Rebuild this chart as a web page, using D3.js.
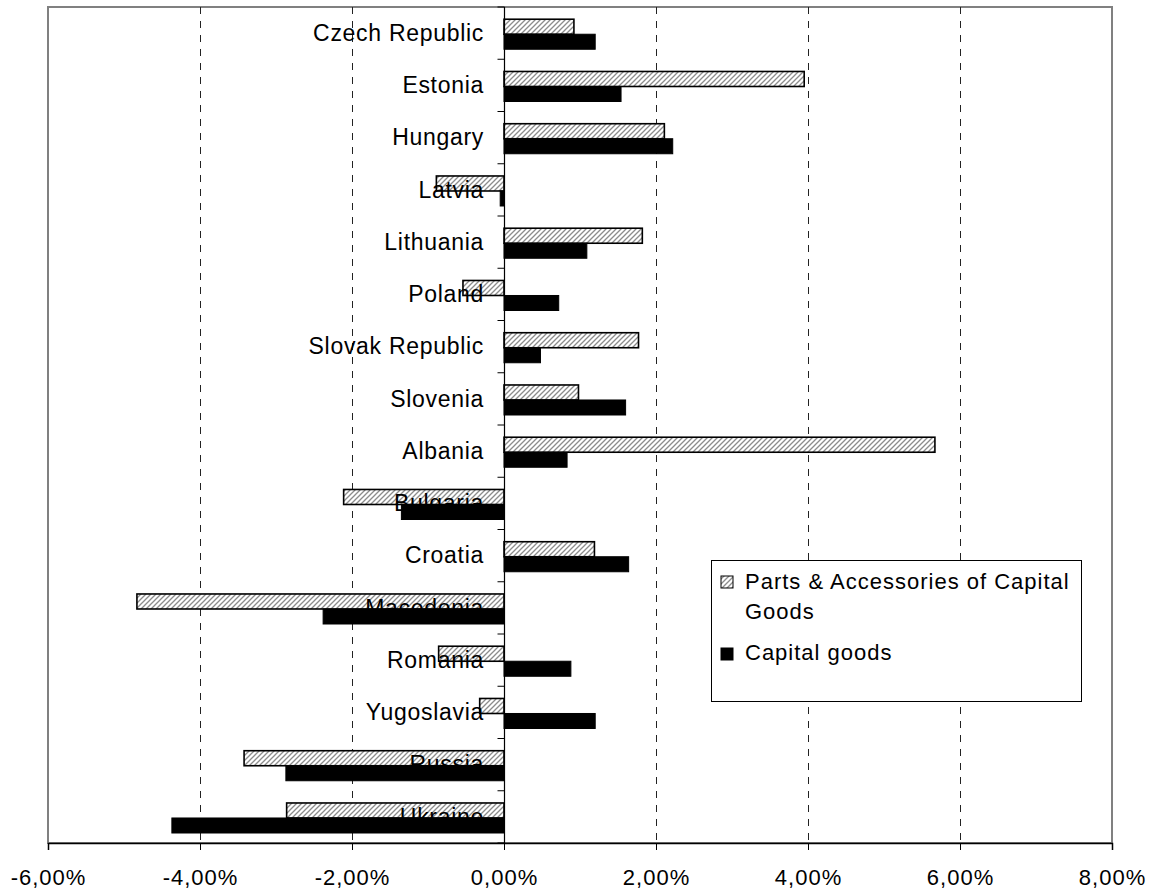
<!DOCTYPE html>
<html>
<head>
<meta charset="utf-8">
<script src="https://cdn.jsdelivr.net/npm/d3@7"></script>
<style>
  html, body { margin: 0; padding: 0; background: #fff; }
  svg { display: block; font-family: "Liberation Sans", Arial, sans-serif; }
</style>
</head>
<body>
<svg id="chart" width="1156" height="893"></svg>
<script>
// Countries, top to bottom
const countries = ["Czech Republic", "Estonia", "Hungary", "Latvia", "Lithuania", "Poland",
  "Slovak Republic", "Slovenia", "Albania", "Bulgaria", "Croatia", "Macedonia",
  "Romania", "Yugoslavia", "Russia", "Ukraine"];

// Series values, in percent
const partsValues = [0.92, 3.95, 2.11, -0.89, 1.82, -0.54, 1.77, 0.98, 5.67, -2.11,
  1.19, -4.83, -0.86, -0.32, -3.42, -2.86];
const capitalValues = [1.20, 1.54, 2.22, -0.05, 1.09, 0.72, 0.48, 1.60, 0.83, -1.35,
  1.64, -2.38, 0.88, 1.20, -2.87, -4.37];

const seriesNames = ["Parts & Accessories of Capital Goods", "Capital goods"];

// Axis ticks
const tickValues = [-6, -4, -2, 0, 2, 4, 6, 8];
const tickLabels = ["-6,00%", "-4,00%", "-2,00%", "0,00%", "2,00%", "4,00%", "6,00%", "8,00%"];
const gridValues = [-4, -2, 2, 4, 6];

const svg = d3.select("#chart");
const plot = { left: 48, right: 1112, top: 7, bottom: 843 };

const x = d3.scaleLinear().domain([-6, 8]).range([plot.left, plot.right]);
const y = d3.scaleBand().domain(countries).range([plot.top, plot.bottom]).padding(0);
const sub = d3.scaleBand().domain(["parts", "capital"]).range([0, y.bandwidth()])
  .paddingInner(0).paddingOuter(0.74).align(0.55);

// Hatch pattern for the parts series
const defs = svg.append("defs");
const pat = defs.append("pattern")
  .attr("id", "hatch")
  .attr("patternUnits", "userSpaceOnUse")
  .attr("width", 5).attr("height", 5);
pat.append("rect").attr("width", 5).attr("height", 5).attr("fill", "#fff");
pat.append("path")
  .attr("d", "M-1,1 l2,-2 M0,5 l5,-5 M4,6 l2,-2")
  .attr("stroke", "#8c8c8c")
  .attr("stroke-width", 1.3);

// Plot area border
svg.append("rect")
  .attr("x", plot.left).attr("y", plot.top)
  .attr("width", plot.right - plot.left).attr("height", plot.bottom - plot.top)
  .attr("fill", "#fff").attr("stroke", "#808080").attr("stroke-width", 2);

// Dashed vertical gridlines
svg.append("g").selectAll("line").data(gridValues).join("line")
  .attr("x1", d => Math.round(x(d)) + 0.5).attr("x2", d => Math.round(x(d)) + 0.5)
  .attr("y1", plot.top).attr("y2", plot.bottom)
  .attr("stroke", "#222").attr("stroke-width", 1)
  .attr("stroke-dasharray", "7,7");

const rows = countries.map((c, i) => ({ c, parts: partsValues[i], capital: capitalValues[i] }));

// Hatched bars (parts series)
svg.append("g").selectAll("rect").data(rows).join("rect")
  .attr("x", d => x(Math.min(0, d.parts)))
  .attr("y", d => y(d.c) + sub("parts"))
  .attr("width", d => Math.abs(x(d.parts) - x(0)))
  .attr("height", sub.bandwidth())
  .attr("fill", "url(#hatch)")
  .attr("stroke", "#000").attr("stroke-width", 1.6);

// Category labels, placed left of the zero line
svg.append("g").selectAll("text").data(countries).join("text")
  .attr("x", x(0) - 20)
  .attr("y", d => y(d) + y.bandwidth() / 2)
  .attr("dy", "0.34em")
  .attr("text-anchor", "end")
  .attr("font-size", 23)
  .attr("letter-spacing", "0.7px")
  .attr("fill", "#000")
  .text(d => d);

// Solid bars (capital goods series)
svg.append("g").selectAll("rect").data(rows).join("rect")
  .attr("x", d => x(Math.min(0, d.capital)))
  .attr("y", d => y(d.c) + sub("capital"))
  .attr("width", d => Math.abs(x(d.capital) - x(0)))
  .attr("height", sub.bandwidth())
  .attr("fill", "#000")
  .attr("stroke", "#000").attr("stroke-width", 1);

// Category axis on the zero line with ticks at band boundaries
const boundaries = countries.map(c => y(c)).concat([plot.bottom]);
const zeroX = Math.round(x(0)) + 0.5;
svg.append("line")
  .attr("x1", zeroX).attr("x2", zeroX)
  .attr("y1", plot.top).attr("y2", plot.bottom)
  .attr("stroke", "#000").attr("stroke-width", 1.2);
svg.append("g").selectAll("line").data(boundaries).join("line")
  .attr("x1", zeroX - 7).attr("x2", zeroX)
  .attr("y1", d => d).attr("y2", d => d)
  .attr("stroke", "#000").attr("stroke-width", 1);

// Value axis along the bottom
const xAxis = d3.axisBottom(x)
  .tickValues(tickValues)
  .tickFormat((d, i) => tickLabels[i])
  .tickSize(7).tickPadding(19);
const gx = svg.append("g")
  .attr("transform", `translate(0,${plot.bottom})`)
  .call(xAxis);
gx.select(".domain").attr("stroke", "#000").attr("stroke-width", 1.5);
gx.selectAll(".tick line").attr("stroke", "#000").attr("stroke-width", 1);
gx.selectAll(".tick text")
  .attr("font-size", 22)
  .attr("letter-spacing", "1px")
  .attr("font-family", "Liberation Sans, Arial, sans-serif")
  .attr("fill", "#000");

// Legend
const lg = svg.append("g");
lg.append("rect")
  .attr("x", 711.5).attr("y", 560.5).attr("width", 370).attr("height", 141)
  .attr("fill", "#fff").attr("stroke", "#000").attr("stroke-width", 1);
lg.append("rect")
  .attr("x", 721).attr("y", 576).attr("width", 12).attr("height", 12)
  .attr("fill", "url(#hatch)").attr("stroke", "#000").attr("stroke-width", 1);
lg.append("rect")
  .attr("x", 721).attr("y", 648).attr("width", 12).attr("height", 12)
  .attr("fill", "#000").attr("stroke", "#000").attr("stroke-width", 1);
const legendText = lg.append("text")
  .attr("font-size", 22)
  .attr("letter-spacing", "1px")
  .attr("fill", "#000");
legendText.append("tspan").attr("x", 745).attr("y", 589).text("Parts & Accessories of Capital");
legendText.append("tspan").attr("x", 745).attr("y", 619).text("Goods");
lg.append("text")
  .attr("x", 745).attr("y", 660)
  .attr("font-size", 22)
  .attr("letter-spacing", "1px")
  .attr("fill", "#000")
  .text(seriesNames[1]);
</script>
</body>
</html>
